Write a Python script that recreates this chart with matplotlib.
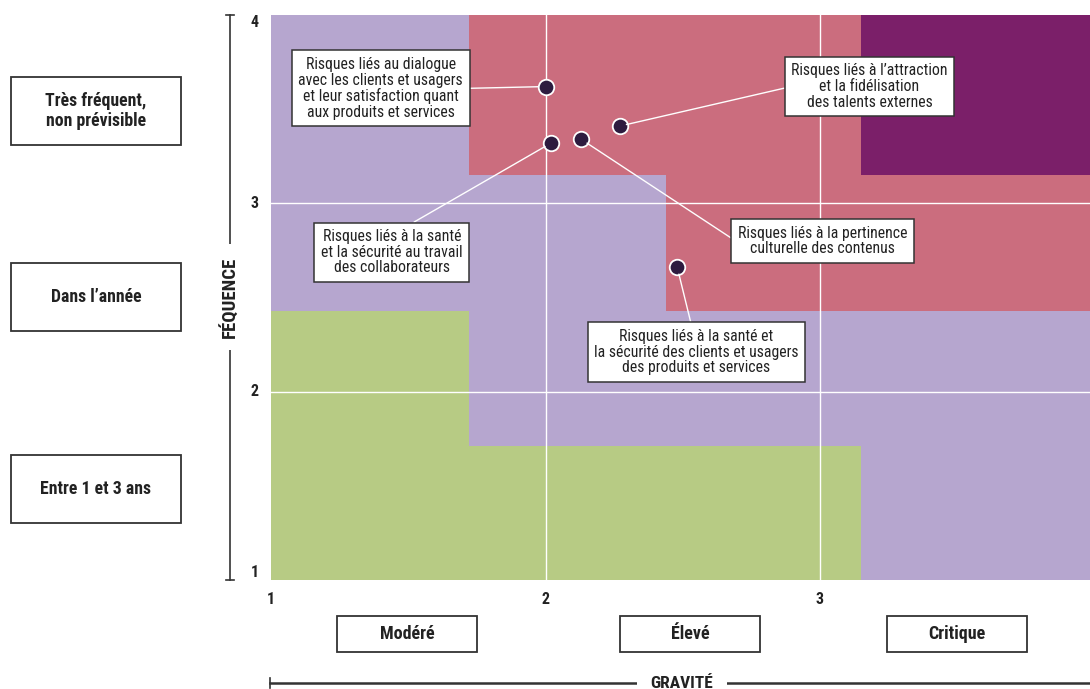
import matplotlib
matplotlib.use("Agg")
import matplotlib.pyplot as plt
from matplotlib.patches import Rectangle

plt.rcParams['font.family'] = ['Roboto Condensed', 'Archivo Narrow', 'DejaVu Sans']
plt.rcParams['font.stretch'] = 'condensed'

# Zones (x0, x1, y0, y1) en unités gravité / fréquence
zone_green = [(1.0, 1.72, 1.0, 2.43), (1.72, 3.15, 1.0, 1.71)]
zone_red = [(1.72, 4.0, 3.15, 4.0), (2.44, 4.0, 2.43, 3.15)]
zone_dark = [(3.15, 4.0, 3.15, 4.0)]

# Risques : position (gravité, fréquence) et libellé
risk_x = [2.00, 2.02, 2.13, 2.27, 2.48]
risk_y = [3.62, 3.32, 3.34, 3.41, 2.66]
risk_labels = [
    "Risques liés au dialogue\navec les clients et usagers\net leur satisfaction quant\naux produits et services",
    "Risques liés à la santé\net la sécurité au travail\ndes collaborateurs",
    "Risques liés à la pertinence\nculturelle des contenus",
    "Risques liés à l’attraction\net la fidélisation\ndes talents externes",
    "Risques liés à la santé et\nla sécurité des clients et usagers\ndes produits et services",
]
label_x = [1.40, 1.44, 3.01, 3.18, 2.55]
label_y = [3.61, 2.74, 2.80, 3.62, 2.21]
label_relpos = [(1, 0.5), (0.57, 1), (0, 0.45), (0, 0.5), (0.48, 1)]

x_ticks = [1, 2, 3]
y_ticks = [1, 2, 3, 4]
gravite_cats = ["Modéré", "Élevé", "Critique"]
frequence_cats = ["Très fréquent,\nnon prévisible", "Dans l’année", "Entre 1 et 3 ans"]

c_purple = "#b6a6cf"
c_green = "#b7cb84"
c_red = "#cb6d7e"
c_dark = "#7b1f69"
c_point = "#2d1b3f"
c_text = "#222222"

W, H = 1090, 689
fig = plt.figure(figsize=(W / 100, H / 100), dpi=100)


def fx(px):
    return px / W


def fy(py):
    return 1 - py / H


ax = fig.add_axes([fx(271), fy(580), fx(1090) - fx(271), fy(15) - fy(580)])
ax.set_xlim(1, 1 + 819 / 274.5)
ax.set_ylim(1, 4)
ax.set_facecolor(c_purple)
for s in ax.spines.values():
    s.set_visible(False)

for zones, col in [(zone_green, c_green), (zone_red, c_red), (zone_dark, c_dark)]:
    for x0, x1, y0, y1 in zones:
        ax.add_patch(Rectangle((x0, y0), x1 - x0, y1 - y0, facecolor=col,
                               edgecolor="none", zorder=1))

for v in [2, 3]:
    ax.axvline(v, color="white", lw=1, zorder=2)
    ax.axhline(v, color="white", lw=1, zorder=2)

ax.set_xticks(x_ticks)
ax.set_xticklabels([str(t) for t in x_ticks], fontweight="bold", fontsize=11.5, color=c_text)
ax.set_yticks(y_ticks)
ax.set_yticklabels([str(t) for t in y_ticks], fontweight="bold", fontsize=11.5, color=c_text)
ax.tick_params(length=0, pad=9)
for lab, t in zip(ax.get_yticklabels(), y_ticks):
    lab.set_verticalalignment("bottom" if t == 1 else "top" if t == 4 else "center")

ax.scatter(risk_x, risk_y, s=125, color=c_point, edgecolor="white", linewidth=1.3, zorder=5)

for i, txt in enumerate(risk_labels):
    ax.annotate(txt, xy=(risk_x[i], risk_y[i]), xytext=(label_x[i], label_y[i]),
                ha="center", va="center", fontsize=11.3, color=c_text, linespacing=1.05,
                bbox=dict(boxstyle="square,pad=0.42", facecolor="white",
                          edgecolor="#333333", lw=1.1),
                arrowprops=dict(arrowstyle="-", color="white", lw=1,
                                relpos=label_relpos[i], shrinkA=0, shrinkB=5),
                zorder=6)

# Catégories de gravité (sous l'axe)
grav_px = [407, 690, 957]
for cx, txt in zip(grav_px, gravite_cats):
    fig.patches.append(Rectangle((fx(cx - 70), fy(652)), fx(140), fy(616) - fy(652),
                                 transform=fig.transFigure, facecolor="white",
                                 edgecolor="#333333", lw=1.3))
    fig.text(fx(cx), fy(634), txt, ha="center", va="center", fontsize=13,
             fontweight="bold", color=c_text)

# Catégories de fréquence (à gauche)
freq_py = [111, 297, 489]
for cy, txt in zip(freq_py, frequence_cats):
    fig.patches.append(Rectangle((fx(11), fy(cy + 34)), fx(170), fy(cy - 34) - fy(cy + 34),
                                 transform=fig.transFigure, facecolor="white",
                                 edgecolor="#333333", lw=1.3))
    fig.text(fx(96), fy(cy), txt, ha="center", va="center", fontsize=12.8,
             fontweight="bold", color=c_text, linespacing=1.1)

# Axe FÉQUENCE
fig.add_artist(plt.Line2D([fx(230), fx(230)], [fy(15), fy(580)], color="#333333", lw=1.2))
for py in [15, 580]:
    fig.add_artist(plt.Line2D([fx(226), fx(234)], [fy(py), fy(py)], color="#333333", lw=1.2))
fig.text(fx(230), fy(297), "FÉQUENCE", rotation=90, ha="center", va="center",
         fontsize=13.5, fontweight="bold", color=c_text,
         bbox=dict(facecolor="white", edgecolor="none", pad=9))

# Axe GRAVITÉ
fig.add_artist(plt.Line2D([fx(270), fx(1090)], [fy(683), fy(683)], color="#333333", lw=1.8))
fig.add_artist(plt.Line2D([fx(270), fx(270)], [fy(678), fy(688)], color="#333333", lw=1.2))
fig.text(fx(682), fy(683), "GRAVITÉ", ha="center", va="center",
         fontsize=12.5, fontweight="bold", color=c_text,
         bbox=dict(facecolor="white", edgecolor="none", pad=10))

fig.savefig("out.png", dpi=100)
